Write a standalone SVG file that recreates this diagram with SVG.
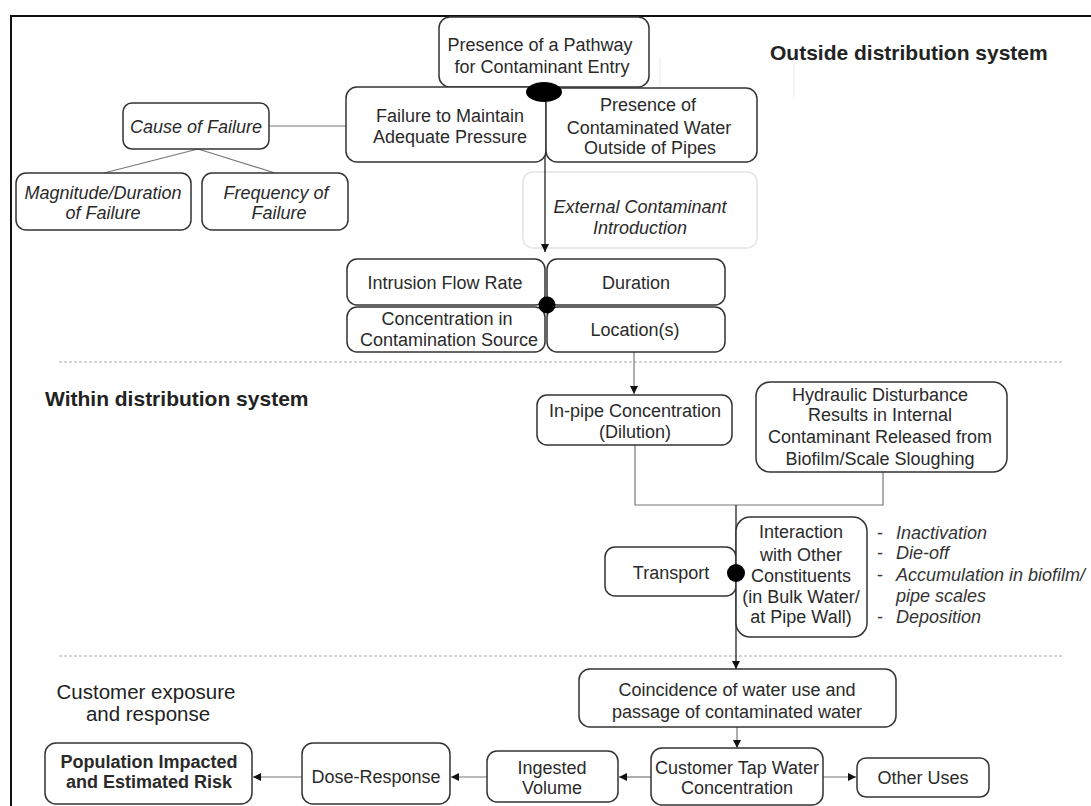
<svg xmlns="http://www.w3.org/2000/svg" width="1091" height="806" viewBox="0 0 1091 806">
<defs>
<marker id="ah" markerUnits="userSpaceOnUse" markerWidth="8" markerHeight="8" refX="8" refY="4" orient="auto">
<path d="M0,0 L8,4 L0,8 z" fill="#111"/>
</marker>
</defs>
<style>
.box{fill:#fff;stroke:#333;stroke-width:1.5}
.faint{fill:#fff;stroke:#e4e4e4;stroke-width:1.5}
.t{font-family:"Liberation Sans",Arial,sans-serif;font-size:18px;fill:#2a2a2a;text-anchor:middle}
.i{font-style:italic}
.b{font-weight:bold}
.hd{font-family:"Liberation Sans",Arial,sans-serif;font-size:21px;font-weight:bold;fill:#222}
.hn{font-family:"Liberation Sans",Arial,sans-serif;font-size:20.5px;fill:#222;text-anchor:middle}
.bl{font-family:"Liberation Sans",Arial,sans-serif;font-size:18px;fill:#333}
.c{fill:none;stroke:#777;stroke-width:1.2}
.k{fill:none;stroke:#222;stroke-width:1.3}
.sep{stroke:#aaa;stroke-width:1;stroke-dasharray:3 2}
</style>
<rect width="1091" height="806" fill="#fff"/>
<path d="M11,806 L11,16 L1091,16" fill="none" stroke="#111" stroke-width="2"/>
<line x1="660" y1="57" x2="660" y2="88" stroke="#e8e8e8" stroke-width="1"/>
<line x1="794" y1="63" x2="794" y2="97" stroke="#e8e8e8" stroke-width="1"/>
<line class="sep" x1="59" y1="362" x2="1062" y2="362"/>
<line class="sep" x1="59" y1="656" x2="1064" y2="656"/>
<text class="hd" x="770" y="60">Outside distribution system</text>
<text class="hd" x="45" y="406">Within distribution system</text>
<text class="hn" x="146" y="699">Customer exposure</text>
<text class="hn" x="148" y="721">and response</text>

<g id="external"><rect class="faint" x="523" y="172" width="234" height="76" rx="10"/>
<text class="t i" x="640" y="213">External Contaminant</text><text class="t i" x="640" y="234">Introduction</text></g>

<g id="connectors">
<line class="c" x1="269" y1="126" x2="346" y2="126"/>
<line class="c" x1="198" y1="149" x2="104" y2="173"/>
<line class="c" x1="198" y1="149" x2="275" y2="173"/>
<line class="k" x1="545" y1="92" x2="545" y2="252" marker-end="url(#ah)"/>
<line class="c" x1="634" y1="352" x2="634" y2="394" marker-end="url(#ah)"/>
<polyline class="c" points="635,445 635,505 883,505 883,472"/>
<line class="k" x1="736" y1="505" x2="736" y2="566" marker-end="url(#ah)"/>
<line class="k" x1="736" y1="573" x2="736" y2="669" marker-end="url(#ah)"/>
<line class="c" x1="737" y1="727" x2="737" y2="748" marker-end="url(#ah)"/>
<line class="c" x1="823" y1="777" x2="856" y2="777" marker-end="url(#ah)"/>
<line class="c" x1="651" y1="777" x2="619" y2="777" marker-end="url(#ah)"/>
<line class="c" x1="487" y1="777" x2="451" y2="777" marker-end="url(#ah)"/>
<line class="c" x1="302" y1="777" x2="253" y2="777" marker-end="url(#ah)"/>
</g>

<g id="pathway"><rect class="box" x="439" y="17" width="210" height="70" rx="11"/>
<text class="t" x="540" y="51">Presence of a Pathway</text><text class="t" x="542" y="73">for Contaminant Entry</text></g>
<g id="failure"><rect class="box" x="346" y="87" width="200" height="75" rx="11"/>
<text class="t" x="450" y="122">Failure to Maintain</text><text class="t" x="450" y="143">Adequate Pressure</text></g>
<g id="contaminated"><rect class="box" x="546" y="88" width="211" height="74" rx="11"/>
<text class="t" x="648" y="111">Presence of</text><text class="t" x="649" y="134">Contaminated Water</text><text class="t" x="650" y="154">Outside of Pipes</text></g>
<g id="cause"><rect class="box" x="123" y="103" width="146" height="46" rx="9"/>
<text class="t i" x="196" y="133">Cause of Failure</text></g>
<g id="magnitude"><rect class="box" x="16" y="173" width="175" height="57" rx="10"/>
<text class="t i" x="103" y="199">Magnitude/Duration</text><text class="t i" x="103" y="219">of Failure</text></g>
<g id="frequency"><rect class="box" x="202" y="173" width="146" height="57" rx="10"/>
<text class="t i" x="276" y="199">Frequency of</text><text class="t i" x="279" y="219">Failure</text></g>
<g id="dot1"><ellipse cx="544" cy="92" rx="18" ry="10" fill="#000"/></g>

<g id="intrusion"><rect class="box" x="347" y="259" width="198" height="46" rx="10"/>
<text class="t" x="445" y="289">Intrusion Flow Rate</text></g>
<g id="duration"><rect class="box" x="547" y="259" width="178" height="46" rx="10"/>
<text class="t" x="636" y="289">Duration</text></g>
<g id="concentration"><rect class="box" x="347" y="307" width="198" height="45" rx="10"/>
<text class="t" x="447" y="325">Concentration in</text><text class="t" x="449" y="346">Contamination Source</text></g>
<g id="locations"><rect class="box" x="547" y="307" width="178" height="45" rx="10"/>
<text class="t" x="635" y="336">Location(s)</text></g>
<g id="dot2"><circle cx="547" cy="305" r="8.5" fill="#000"/></g>

<g id="inpipe"><rect class="box" x="537" y="395" width="195" height="50" rx="10"/>
<text class="t" x="635" y="417">In-pipe Concentration</text><text class="t" x="635" y="438">(Dilution)</text></g>
<g id="hydraulic"><rect class="box" x="756" y="382" width="251" height="90" rx="14"/>
<text class="t" x="880" y="401">Hydraulic Disturbance</text><text class="t" x="880" y="421">Results in Internal</text><text class="t" x="880" y="443">Contaminant Released from</text><text class="t" x="880" y="465">Biofilm/Scale Sloughing</text></g>
<g id="transport"><rect class="box" x="605" y="547" width="131" height="49" rx="10"/>
<text class="t" x="671" y="579">Transport</text></g>
<g id="interaction"><rect class="box" x="736" y="517" width="131" height="120" rx="14"/>
<text class="t" x="801" y="538">Interaction</text><text class="t" x="801" y="561">with Other</text><text class="t" x="801" y="582">Constituents</text><text class="t" x="801" y="603">(in Bulk Water/</text><text class="t" x="801" y="623">at Pipe Wall)</text></g>
<g id="dot3"><circle cx="736" cy="573" r="9" fill="#000"/></g>
<g id="bullets">
<text class="bl" x="877" y="539">-</text><text class="bl i" x="896" y="539">Inactivation</text>
<text class="bl" x="877" y="559">-</text><text class="bl i" x="896" y="559">Die-off</text>
<text class="bl" x="877" y="581">-</text><text class="bl i" x="896" y="581">Accumulation in biofilm/</text>
<text class="bl i" x="896" y="602">pipe scales</text>
<text class="bl" x="877" y="623">-</text><text class="bl i" x="896" y="623">Deposition</text>
</g>

<g id="coincidence"><rect class="box" x="579" y="669" width="317" height="58" rx="11"/>
<text class="t" x="737" y="696">Coincidence of water use and</text><text class="t" x="737" y="718">passage of contaminated  water</text></g>
<g id="customertap"><rect class="box" x="651" y="748" width="172" height="57" rx="11"/>
<text class="t" x="737" y="774">Customer Tap Water</text><text class="t" x="737" y="794">Concentration</text></g>
<g id="otheruses"><rect class="box" x="857" y="758" width="132" height="39" rx="9"/>
<text class="t" x="923" y="784">Other Uses</text></g>
<g id="ingested"><rect class="box" x="487" y="751" width="131" height="51" rx="10"/>
<text class="t" x="552" y="774">Ingested</text><text class="t" x="552" y="794">Volume</text></g>
<g id="dose"><rect class="box" x="302" y="743" width="148" height="61" rx="11"/>
<text class="t" x="376" y="783">Dose-Response</text></g>
<g id="population"><rect class="box" x="45" y="743" width="207" height="61" rx="11"/>
<text class="t b" x="149" y="768">Population Impacted</text><text class="t b" x="149" y="788">and Estimated Risk</text></g>
</svg>
